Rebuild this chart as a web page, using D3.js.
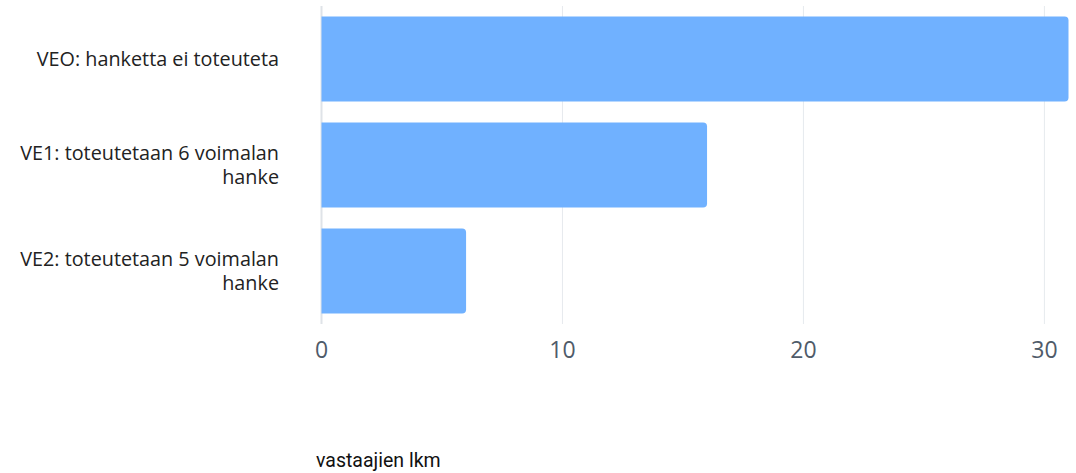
<!DOCTYPE html>
<html><head><meta charset="utf-8">
<script src="https://cdn.jsdelivr.net/npm/d3@7"></script>
<style>body{margin:0;background:#fff}svg{display:block}</style>
</head><body>
<script>
const categories = [["VEO: hanketta ei toteuteta"], ["VE1: toteutetaan 6 voimalan", "hanke"], ["VE2: toteutetaan 5 voimalan", "hanke"]];
const values = [31, 16, 6];
const tickValues = [0, 10, 20, 30];
const axisTitle = "vastaajien lkm";

const W = 1076, H = 473;
const svg = d3.select("body").append("svg").attr("width", W).attr("height", H);
const x = d3.scaleLinear().domain([0, 31]).range([321.5, 1068.5]);
const y = d3.scaleBand().domain(d3.range(values.length)).range([6, 324]).paddingInner(0.2).paddingOuter(0.1);

// grid
svg.append("g").selectAll("line").data(tickValues).join("line")
  .attr("x1", d => x(d)).attr("x2", d => x(d)).attr("y1", 6).attr("y2", 324)
  .attr("stroke", d => d === 0 ? "#dfe3e8" : "#e6eaee").attr("stroke-width", d => d === 0 ? 2 : 1);

// bars: square left, rounded right
const r = 4;
svg.append("g").selectAll("path").data(values).join("path")
  .attr("fill", "#70b1ff")
  .attr("d", (d, i) => {
    const x0 = x(0), x1 = x(d), y0 = y(i), h = y.bandwidth();
    return `M${x0},${y0}H${x1 - r}Q${x1},${y0} ${x1},${y0 + r}V${y0 + h - r}Q${x1},${y0 + h} ${x1 - r},${y0 + h}H${x0}Z`;
  });

// category labels (one text element per line)
const lines = [];
categories.forEach((c, i) => c.forEach((t, j) => lines.push({ t, y: y(i) + y.bandwidth() / 2 - (c.length - 1) * 12 + j * 24 })));
svg.append("g").selectAll("text").data(lines).join("text")
  .attr("x", 279).attr("y", d => d.y).attr("dy", "0.35em")
  .attr("text-anchor", "end").attr("font-family", "Open Sans").attr("font-size", 19.8).attr("fill", "#222")
  .text(d => d.t);

// x axis tick labels
svg.append("g").selectAll("text").data(tickValues).join("text")
  .attr("x", d => x(d)).attr("y", 350).attr("dy", "0.35em").attr("text-anchor", "middle")
  .attr("font-family", "Open Sans").attr("font-size", 23).attr("fill", "#4f5b69").text(d => d);

svg.append("text").attr("x", 316).attr("y", 467).attr("font-family", "Roboto").attr("font-size", 19.5)
  .attr("fill", "#111").text(axisTitle);
</script>
</body></html>
